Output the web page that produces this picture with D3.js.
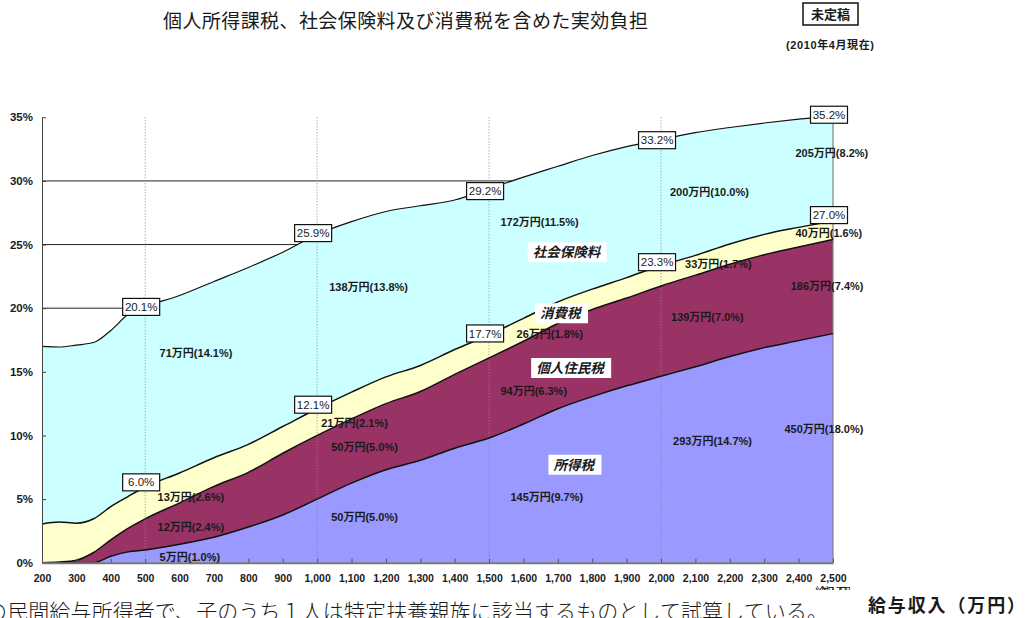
<!DOCTYPE html>
<head>
  <meta charset="utf-8">
  <script src="https://d3js.org/d3.v7.min.js"></script>
  <style type="text/css">
    body { margin: 0; background: #fff; }
    svg { display: block; }
    text { font-family: "Liberation Sans", Arial, "Noto Sans CJK JP", sans-serif; fill: #1a1a1a; }
    .cjk { font-family: "Noto Sans CJK JP", sans-serif; }
  </style>
</head>

<body>
  <script type="text/javascript">
    // income levels (万円) and the stacked burden rates (%)
    var incomes = [200,250,300,350,400,450,500,600,700,800,900,1000,1100,1200,1300,1400,1500,1600,1700,1800,1900,2000,2100,2200,2300,2400,2500];
    var incomeTax = [0,0,0,0,0.5,0.85,1.0,1.45,2.0,2.8,3.75,5.0,6.25,7.3,8.05,9.0,9.8,10.9,12.1,13.05,13.9,14.65,15.4,16.2,16.9,17.45,18.0];
    var residentTax = [0,0.05,0.2,0.8,1.3,1.85,2.45,3.25,4.0,4.3,4.85,5.0,5.05,5.2,5.4,5.8,6.3,6.5,6.7,6.85,6.9,7.1,7.2,7.25,7.3,7.35,7.4];
    var consumptionTax = [3.05,3.15,2.9,2.65,2.6,2.5,2.5,2.35,2.25,2.2,2.1,2.1,2.1,2.1,2.05,1.95,1.8,1.8,1.7,1.6,1.6,1.6,1.55,1.6,1.6,1.55,1.45];
    var socialInsurance = [13.95,13.75,14.0,13.85,13.85,14.3,14.15,13.95,13.85,13.9,13.7,13.7,13.4,13.0,12.55,11.75,11.5,11.1,10.65,10.5,10.3,9.9,9.65,9.15,8.75,8.5,8.25];

    var seriesKeys = ["income", "resident", "consumption", "social"];
    var seriesColors = ["#9999ff", "#993366", "#ffffcc", "#ccffff"];

    var xTicks = d3.range(200, 2501, 100);
    var yTicks = [0, 5, 10, 15, 20, 25, 30, 35];
    var gridLevels = [5, 10, 15, 20, 25, 30];
    var dottedAt = [500, 1000, 1500, 2000];

    // boxed rate labels
    var boxAt = [500, 1000, 1500, 2000, 2500];
    var totalLabels = [20.1, 25.9, 29.2, 33.2, 35.2];
    var subtotalLabels = [6.0, 12.1, 17.7, 23.3, 27.0];

    // amount labels: [income level, rate level, text]
    var amountLabels = [
      [542, 16.2, "71万円(14.1%)"], [536, 4.85, "13万円(2.6%)"], [536, 2.5, "12万円(2.4%)"], [542, 0.15, "5万円(1.0%)"],
      [1035, 21.35, "138万円(13.8%)"], [1012, 10.65, "21万円(2.1%)"], [1041, 8.75, "50万円(5.0%)"], [1041, 3.3, "50万円(5.0%)"],
      [1533, 26.45, "172万円(11.5%)"], [1580, 17.65, "26万円(1.8%)"], [1533, 13.2, "94万円(6.3%)"], [1562, 4.85, "145万円(9.7%)"],
      [2026, 28.8, "200万円(10.0%)"], [2070, 23.15, "33万円(1.7%)"], [2029, 19.0, "139万円(7.0%)"], [2035, 9.25, "293万円(14.7%)"],
      [2391, 31.9, "205万円(8.2%)"], [2391, 25.6, "40万円(1.6%)"], [2377, 21.45, "186万円(7.4%)"], [2359, 10.2, "450万円(18.0%)"]
    ];
    // category names: [income level, rate level, text]
    var categoryLabels = [
      [1725, 24.4, "社会保険料"], [1707, 19.6, "消費税"], [1735, 15.3, "個人住民税"], [1746, 7.7, "所得税"]
    ];

    var width = 1032, height = 618;

    var svg = d3.select("body").append("svg")
      .attr("width", width)
      .attr("height", height);

    var x = d3.scaleLinear().domain([200, 2500]).range([42, 833]);
    var y = d3.scaleLinear().domain([0, 35]).range([562.7, 117.3]);

    var rows = incomes.map(function(v, i) {
      return { v: v, income: incomeTax[i], resident: residentTax[i], consumption: consumptionTax[i], social: socialInsurance[i] };
    });
    var stacked = d3.stack().keys(seriesKeys)(rows);

    // horizontal grid (sits under the areas)
    svg.append("g").selectAll("line")
      .data(gridLevels)
      .enter().append("line")
      .attr("x1", x(200)).attr("x2", x(2500))
      .attr("y1", function(d) { return y(d); })
      .attr("y2", function(d) { return y(d); })
      .attr("stroke", "#222").attr("stroke-width", 1);

    var area = d3.area()
      .curve(d3.curveMonotoneX)
      .x(function(d) { return x(d.data.v); })
      .y0(function(d) { return y(d[0]); })
      .y1(function(d) { return y(d[1]); });

    var line = d3.line()
      .curve(d3.curveMonotoneX)
      .x(function(d) { return x(d.data.v); })
      .y(function(d) { return y(d[1]); });

    svg.append("g").selectAll("path")
      .data(stacked)
      .enter().append("path")
      .attr("d", area)
      .attr("fill", function(d, i) { return seriesColors[i]; });

    // dotted verticals
    svg.append("g").selectAll("line")
      .data(dottedAt)
      .enter().append("line")
      .attr("x1", function(d) { return x(d); })
      .attr("x2", function(d) { return x(d); })
      .attr("y1", y(35)).attr("y2", y(0))
      .attr("stroke", "#8a8a8a").attr("stroke-width", 1)
      .attr("stroke-dasharray", "1,2");

    // right edge of the area
    var last = stacked[3][stacked[3].length - 1];
    svg.append("line")
      .attr("x1", x(2500)).attr("x2", x(2500))
      .attr("y1", y(last[1])).attr("y2", y(0))
      .attr("stroke", "#808080").attr("stroke-width", 1.2);

    svg.append("g").selectAll("path")
      .data(stacked)
      .enter().append("path")
      .attr("d", line)
      .attr("fill", "none")
      .attr("stroke", "#111")
      .attr("stroke-width", function(d, i) { return i === 3 ? 1.2 : 1.5; });

    // axes
    var yAxis = d3.axisLeft(y)
      .tickValues(yTicks)
      .tickSize(-4).tickSizeOuter(0)
      .tickPadding(9)
      .tickFormat(function(d) { return d + "%"; });

    var gy = svg.append("g")
      .attr("transform", "translate(" + x(200) + ",0)")
      .call(yAxis);
    gy.select(".domain").attr("stroke", "#444");
    gy.selectAll(".tick line").attr("stroke", "#444");
    gy.selectAll(".tick text")
      .attr("font-size", 11.5).attr("font-weight", "bold")
      .attr("font-family", "Liberation Sans, Arial, sans-serif")
      .attr("fill", "#2a2a2a");

    var xAxis = d3.axisBottom(x)
      .tickValues(xTicks)
      .tickSize(-4).tickSizeOuter(0)
      .tickPadding(12)
      .tickFormat(d3.format(","));

    var gx = svg.append("g")
      .attr("transform", "translate(0," + y(0) + ")")
      .call(xAxis);
    gx.select(".domain").attr("stroke", "#777").attr("stroke-width", 2);
    gx.selectAll(".tick line").attr("stroke", "#555");
    gx.selectAll(".tick text")
      .attr("font-size", 10.5).attr("font-weight", "bold")
      .attr("font-family", "Liberation Sans, Arial, sans-serif")
      .attr("fill", "#2a2a2a");

    // amount labels
    svg.append("g").selectAll("text")
      .data(amountLabels)
      .enter().append("text")
      .attr("x", function(d) { return x(d[0]); })
      .attr("y", function(d) { return y(d[1]); })
      .attr("font-size", 11)
      .attr("font-weight", "bold")
      .text(function(d) { return d[2]; });

    // category names in white boxes
    var cat = svg.append("g").selectAll("g")
      .data(categoryLabels)
      .enter().append("g")
      .attr("transform", function(d) { return "translate(" + x(d[0]) + "," + y(d[1]) + ")"; });
    cat.append("rect").attr("fill", "#fff");
    cat.append("text")
      .attr("class", "cjk")
      .attr("text-anchor", "middle")
      .attr("dy", "0.36em")
      .attr("font-size", 13.5)
      .attr("font-weight", "bold")
      .attr("font-style", "italic")
      .text(function(d) { return d[2]; });
    cat.each(function() {
      var g = d3.select(this);
      var b = g.select("text").node().getBBox();
      g.select("rect")
        .attr("x", b.x - 5).attr("y", -10)
        .attr("width", b.width + 10).attr("height", 20);
    });

    // boxed rate labels
    function rateBox(values, dy) {
      var g = svg.append("g").selectAll("g")
        .data(values)
        .enter().append("g")
        .attr("transform", function(d, i) { return "translate(" + (x(boxAt[i]) - 4) + "," + (y(d) + dy) + ")"; });
      g.append("rect")
        .attr("x", -18.5).attr("y", -8.5)
        .attr("width", 37).attr("height", 17)
        .attr("fill", "#fff").attr("stroke", "#111").attr("stroke-width", 1.2);
      g.append("text")
        .attr("text-anchor", "middle")
        .attr("dy", "0.36em")
        .attr("font-size", 11.5)
        .attr("fill", "#111")
        .text(function(d) { return d.toFixed(1) + "%"; });
    }
    rateBox(totalLabels, 0);
    rateBox(subtotalLabels, -4);

    // title and notes
    svg.append("text")
      .attr("class", "cjk")
      .attr("x", 163).attr("y", 28)
      .attr("font-size", 19)
      .attr("textLength", 485)
      .attr("fill", "#222")
      .text("個人所得課税、社会保険料及び消費税を含めた実効負担");

    svg.append("rect")
      .attr("x", 803).attr("y", 3)
      .attr("width", 55).attr("height", 22)
      .attr("fill", "#fff").attr("stroke", "#111").attr("stroke-width", 1.5);
    svg.append("text")
      .attr("class", "cjk")
      .attr("x", 830.5).attr("y", 19)
      .attr("text-anchor", "middle")
      .attr("font-size", 13).attr("font-weight", "bold")
      .text("未定稿");

    svg.append("text")
      .attr("x", 830).attr("y", 49)
      .attr("text-anchor", "middle")
      .attr("font-size", 11).attr("font-weight", "bold")
      .attr("textLength", 88)
      .text("(2010年4月現在)");

    // partly hidden axis title under the tick labels
    svg.append("clipPath").attr("id", "peek")
      .append("rect").attr("x", 812).attr("y", 584).attr("width", 46).attr("height", 6);
    svg.append("text")
      .attr("class", "cjk")
      .attr("x", 815).attr("y", 596)
      .attr("font-size", 11)
      .attr("textLength", 40)
      .attr("fill", "#666")
      .attr("clip-path", "url(#peek)")
      .text("給与収入（万円）");

    svg.append("text")
      .attr("class", "cjk")
      .attr("x", -14).attr("y", 619)
      .attr("font-size", 21)
      .attr("font-weight", 300)
      .attr("textLength", 842)
      .attr("fill", "#333")
      .text("の民間給与所得者で、子のうち１人は特定扶養親族に該当するものとして試算している。");

    svg.append("text")
      .attr("class", "cjk")
      .attr("x", 868).attr("y", 612)
      .attr("font-size", 18).attr("font-weight", "bold")
      .attr("textLength", 157)
      .text("給与収入（万円）");
  </script>
</body>
